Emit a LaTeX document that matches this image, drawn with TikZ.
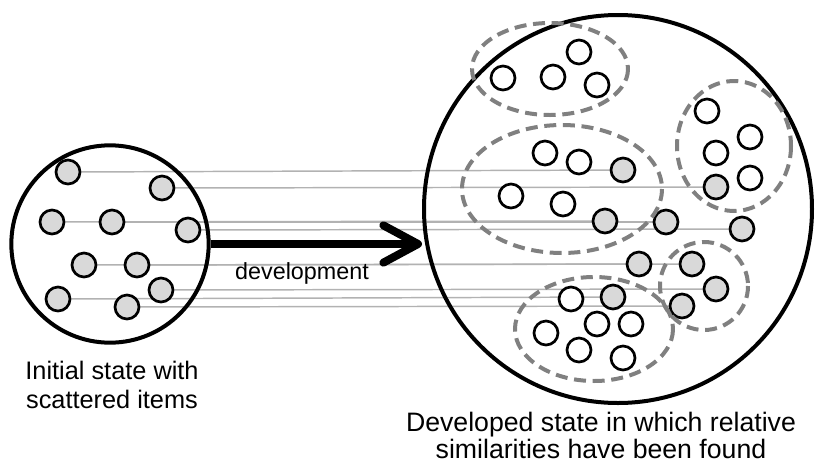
\documentclass[tikz,border=0pt]{standalone}
\usepackage{fontspec}
\setmainfont{Liberation Sans}
\usetikzlibrary{arrows.meta,positioning,backgrounds}

\begin{document}
\begin{tikzpicture}[x=0.75pt, y=-0.75pt,
  state/.style={circle, draw, line width=3pt, minimum size=#1, inner sep=0pt},
  item/.style={circle, draw, line width=2pt, fill=#1, minimum size=18pt, inner sep=0pt},
  item/.default=white,
  cluster/.style={draw=black!50, line width=3pt, dash pattern=on 9pt off 5pt},
  link/.style={black!30, line width=1.1pt},
  devarrow/.style={line width=6pt, -{Straight Barb[length=26pt, width=28pt, round]}},
  caption/.style={font=\fontsize{19pt}{22pt}\selectfont, align=center, inner sep=0pt}
]
  \useasboundingbox (0,0) rectangle (815,465);

  % the two states
  \node[state=148pt] (initial) at (110,244) {};
  \node[state=291pt] (developed) at (618,209) {};

  % scattered items
  \foreach \x/\y [count=\i] in {68/172, 162/188, 52/222, 112/222, 188/230,
                                84/265, 137/265, 161/290, 58/299, 127/307}
    \node[item=black!15] (a\i) at (\x,\y) {};

  % the same items after development
  \foreach \x/\y [count=\i] in {623/170, 716/187, 605/221, 666/222, 742/229,
                                639/264, 692/264, 716/289, 613/297, 682/306}
    \node[item=black!15] (b\i) at (\x,\y) {};

  % new items
  \foreach \x/\y [count=\i] in {503/78, 553/77, 579/52, 597/85,
                                545/153, 579/162, 511/196, 563/204,
                                707/111, 750/137, 716/153, 750/178,
                                571/299, 597/324, 631/324, 546/333, 579/350, 623/358}
    \node[item] (w\i) at (\x,\y) {};

  % groups of similar items
  \draw[cluster] (550,69) ellipse [x radius=78, y radius=46];
  \draw[cluster] (562,189) ellipse [x radius=100, y radius=64];
  \draw[cluster] (734,146) ellipse [x radius=57, y radius=65];
  \draw[cluster] (594,329) ellipse [x radius=79, y radius=52];
  \draw[cluster] (704,286) ellipse [x radius=44, y radius=44];

  \begin{scope}[on background layer]
    \foreach \i in {1,...,10}
      \draw[link] (a\i) -- (b\i);
  \end{scope}

  \draw[devarrow] (initial.east) -- (initial.east -| developed.west);
  \node[caption, anchor=base] (devlabel) at (302,279) {\fontsize{17.5pt}{20pt}\selectfont development};

  \node[caption, anchor=north] (initcap) at (112,361) {Initial state with\\scattered items};
  \node[caption, anchor=north, font=\fontsize{20pt}{20.5pt}\selectfont] (devcap) at (601,412) {Developed state in which relative\\similarities have been found};
\end{tikzpicture}
\end{document}
